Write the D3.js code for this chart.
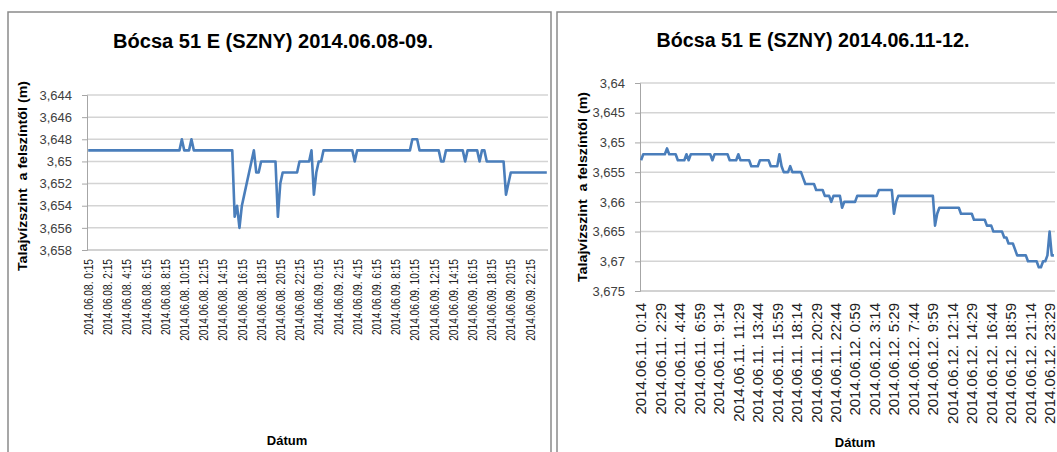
<!DOCTYPE html>
<html>
<head>
<meta charset="utf-8">
<script src="https://cdn.jsdelivr.net/npm/d3@7"></script>
<style>
  body { margin: 0; background: #fff; }
  text { font-family: "Liberation Sans", Arial, sans-serif; }
</style>
</head>
<body>
<svg id="chart" width="1057" height="452"></svg>
<script>
// ---- data ----
const leftTitle = 'Bócsa 51 E (SZNY) 2014.06.08-09.';
const rightTitle = 'Bócsa 51 E (SZNY) 2014.06.11-12.';
const yAxisTitle = 'Talajvízszint  a felszíntől (m)';
const xAxisTitle = 'Dátum';

const leftYTicks = [3.644, 3.646, 3.648, 3.650, 3.652, 3.654, 3.656, 3.658];
const rightYTicks = [3.640, 3.645, 3.650, 3.655, 3.660, 3.665, 3.670, 3.675];

const leftDates = [
  '2014.06.08. 0:15', '2014.06.08. 2:15', '2014.06.08. 4:15', '2014.06.08. 6:15',
  '2014.06.08. 8:15', '2014.06.08. 10:15', '2014.06.08. 12:15', '2014.06.08. 14:15',
  '2014.06.08. 16:15', '2014.06.08. 18:15', '2014.06.08. 20:15', '2014.06.08. 22:15',
  '2014.06.09. 0:15', '2014.06.09. 2:15', '2014.06.09. 4:15', '2014.06.09. 6:15',
  '2014.06.09. 8:15', '2014.06.09. 10:15', '2014.06.09. 12:15', '2014.06.09. 14:15',
  '2014.06.09. 16:15', '2014.06.09. 18:15', '2014.06.09. 20:15', '2014.06.09. 22:15'
];
const rightDates = [
  '2014.06.11. 0:14', '2014.06.11. 2:29', '2014.06.11. 4:44', '2014.06.11. 6:59',
  '2014.06.11. 9:14', '2014.06.11. 11:29', '2014.06.11. 13:44', '2014.06.11. 15:59',
  '2014.06.11. 18:14', '2014.06.11. 20:29', '2014.06.11. 22:44', '2014.06.12. 0:59',
  '2014.06.12. 3:14', '2014.06.12. 5:29', '2014.06.12. 7:44', '2014.06.12. 9:59',
  '2014.06.12. 12:14', '2014.06.12. 14:29', '2014.06.12. 16:44', '2014.06.12. 18:59',
  '2014.06.12. 21:14', '2014.06.12. 23:29'
];

// 15 minute readings, 192 per chart
const leftLevels = [
  3.649, 3.649, 3.649, 3.649, 3.649, 3.649, 3.649, 3.649, 3.649, 3.649, 3.649, 3.649, 3.649, 3.649, 3.649, 3.649,
  3.649, 3.649, 3.649, 3.649, 3.649, 3.649, 3.649, 3.649, 3.649, 3.649, 3.649, 3.649, 3.649, 3.649, 3.649, 3.649,
  3.649, 3.649, 3.649, 3.649, 3.649, 3.649, 3.649, 3.648, 3.649, 3.649, 3.649, 3.648, 3.649, 3.649, 3.649, 3.649,
  3.649, 3.649, 3.649, 3.649, 3.649, 3.649, 3.649, 3.649, 3.649, 3.649, 3.649, 3.649, 3.649, 3.655, 3.654, 3.656,
  3.654, 3.653, 3.652, 3.651, 3.650, 3.649, 3.651, 3.651, 3.650, 3.650, 3.650, 3.650, 3.650, 3.650, 3.650, 3.655,
  3.652, 3.651, 3.651, 3.651, 3.651, 3.651, 3.651, 3.651, 3.650, 3.650, 3.650, 3.650, 3.650, 3.649, 3.653, 3.651,
  3.650, 3.650, 3.649, 3.649, 3.649, 3.649, 3.649, 3.649, 3.649, 3.649, 3.649, 3.649, 3.649, 3.649, 3.649, 3.650,
  3.649, 3.649, 3.649, 3.649, 3.649, 3.649, 3.649, 3.649, 3.649, 3.649, 3.649, 3.649, 3.649, 3.649, 3.649, 3.649,
  3.649, 3.649, 3.649, 3.649, 3.649, 3.649, 3.649, 3.648, 3.648, 3.648, 3.649, 3.649, 3.649, 3.649, 3.649, 3.649,
  3.649, 3.649, 3.649, 3.650, 3.650, 3.649, 3.649, 3.649, 3.649, 3.649, 3.649, 3.649, 3.649, 3.650, 3.649, 3.649,
  3.649, 3.649, 3.649, 3.650, 3.649, 3.649, 3.650, 3.650, 3.650, 3.650, 3.650, 3.650, 3.650, 3.650, 3.653, 3.652,
  3.651, 3.651, 3.651, 3.651, 3.651, 3.651, 3.651, 3.651, 3.651, 3.651, 3.651, 3.651, 3.651, 3.651, 3.651, 3.651
];
const rightLevels = [
  3.653, 3.652, 3.652, 3.652, 3.652, 3.652, 3.652, 3.652, 3.652, 3.652, 3.652, 3.652, 3.651, 3.652, 3.652, 3.652,
  3.652, 3.653, 3.653, 3.653, 3.653, 3.652, 3.653, 3.652, 3.652, 3.652, 3.652, 3.652, 3.652, 3.652, 3.652, 3.652,
  3.652, 3.653, 3.652, 3.652, 3.652, 3.652, 3.652, 3.652, 3.652, 3.653, 3.653, 3.653, 3.653, 3.652, 3.653, 3.653,
  3.653, 3.653, 3.653, 3.654, 3.654, 3.654, 3.654, 3.653, 3.653, 3.653, 3.653, 3.653, 3.654, 3.654, 3.654, 3.654,
  3.652, 3.654, 3.655, 3.655, 3.655, 3.654, 3.655, 3.655, 3.655, 3.655, 3.655, 3.656, 3.657, 3.657, 3.657, 3.657,
  3.657, 3.658, 3.658, 3.658, 3.658, 3.659, 3.659, 3.659, 3.660, 3.659, 3.659, 3.659, 3.659, 3.661, 3.660, 3.660,
  3.660, 3.660, 3.660, 3.660, 3.659, 3.659, 3.659, 3.659, 3.659, 3.659, 3.659, 3.659, 3.659, 3.659, 3.658, 3.658,
  3.658, 3.658, 3.658, 3.658, 3.658, 3.662, 3.660, 3.659, 3.659, 3.659, 3.659, 3.659, 3.659, 3.659, 3.659, 3.659,
  3.659, 3.659, 3.659, 3.659, 3.659, 3.659, 3.659, 3.659, 3.664, 3.662, 3.661, 3.661, 3.661, 3.661, 3.661, 3.661,
  3.661, 3.661, 3.661, 3.661, 3.662, 3.662, 3.662, 3.662, 3.662, 3.662, 3.663, 3.663, 3.663, 3.663, 3.663, 3.663,
  3.664, 3.664, 3.664, 3.665, 3.665, 3.665, 3.665, 3.665, 3.666, 3.666, 3.667, 3.667, 3.667, 3.668, 3.669, 3.669,
  3.669, 3.669, 3.669, 3.670, 3.670, 3.670, 3.670, 3.670, 3.671, 3.671, 3.670, 3.670, 3.669, 3.665, 3.669, 3.669
];

class LevelChart {

  constructor(_config) {
    this.config = _config;
    this.initVis();
  }

  initVis() {
    let vis = this;
    const c = vis.config;

    vis.svg = d3.select('#chart');
    vis.g = vis.svg.append('g');

    // chart frame (cut off by the screenshot at the bottom)
    vis.g.append('rect')
      .attr('x', c.frame[0]).attr('y', c.frame[1])
      .attr('width', c.frame[2]).attr('height', c.frame[3])
      .attr('fill', 'none')
      .attr('stroke', '#8a8a8a')
      .attr('stroke-width', 1.5);

    vis.x = d3.scaleBand()
      .domain(d3.range(c.levels.length))
      .range([c.left, c.right]);

    vis.y = d3.scaleLinear()
      .domain([c.yTicks[0], c.yTicks[c.yTicks.length - 1]])
      .range([c.top, c.bottom]);

    vis.renderVis();
  }

  renderVis() {
    let vis = this;
    const c = vis.config;
    const fmt = v => String(+v.toFixed(3)).replace('.', ',');

    // horizontal gridlines
    vis.g.selectAll('.grid')
      .data(c.yTicks.slice(0, -1))
      .join('line')
        .attr('class', 'grid')
        .attr('x1', c.left).attr('x2', c.right)
        .attr('y1', d => vis.y(d)).attr('y2', d => vis.y(d))
        .attr('stroke', '#d4d4d4')
        .attr('stroke-width', 1.5);

    // y axis
    const yAxis = vis.g.append('g')
      .attr('transform', `translate(${c.left},0)`)
      .call(d3.axisLeft(vis.y).tickValues(c.yTicks).tickFormat(fmt).tickSize(5).tickPadding(10));
    yAxis.select('.domain').attr('stroke', '#a6a6a6');
    yAxis.selectAll('.tick line').attr('stroke', '#a6a6a6');
    yAxis.selectAll('.tick text')
      .attr('font-family', '"Liberation Sans", Arial, sans-serif')
      .attr('font-size', 13)
      .attr('fill', '#404040');

    // x axis line
    vis.g.append('line')
      .attr('x1', c.left).attr('x2', c.right)
      .attr('y1', c.bottom).attr('y2', c.bottom)
      .attr('stroke', '#a6a6a6')
      .attr('stroke-width', 1.2);

    // category labels, one every c.labelEvery readings
    const half = vis.x.bandwidth() / 2;
    vis.g.selectAll('.xlabel')
      .data(c.dates)
      .join('text')
        .attr('class', 'xlabel')
        .attr('transform', (d, i) => `translate(${vis.x(i * c.labelEvery) + half},${c.bottom + c.labelGap}) rotate(-90)`)
        .attr('text-anchor', 'end')
        .attr('dy', '0.36em')
        .attr('font-size', c.labelSize)
        .attr('fill', '#202020')
        .text(d => d)
        .each(function() {
          const len = this.getComputedTextLength();
          d3.select(this).attr('textLength', len * c.labelSquash).attr('lengthAdjust', 'spacingAndGlyphs');
        });

    // series
    const line = d3.line()
      .x((d, i) => vis.x(i) + half)
      .y(d => vis.y(d));

    vis.g.append('path')
      .datum(c.levels)
      .attr('d', line)
      .attr('fill', 'none')
      .attr('stroke', '#4a7ebb')
      .attr('stroke-width', 2.6)
      .attr('stroke-linejoin', 'round');

    // titles
    vis.g.append('text')
      .attr('x', c.titleX).attr('y', c.titleY)
      .attr('text-anchor', 'middle')
      .attr('font-size', 20)
      .attr('font-weight', 'bold')
      .attr('textLength', c.titleLength)
      .attr('lengthAdjust', 'spacingAndGlyphs')
      .text(c.title);

    vis.g.append('text')
      .attr('transform', `translate(${c.yTitleX},${c.yTitleY}) rotate(-90)`)
      .attr('text-anchor', 'middle')
      .attr('font-size', 13)
      .attr('font-weight', 'bold')
      .attr('textLength', 190)
      .attr('lengthAdjust', 'spacingAndGlyphs')
      .style('white-space', 'pre')
      .text(yAxisTitle);

    vis.g.append('text')
      .attr('x', c.xTitleX).attr('y', c.xTitleY)
      .attr('text-anchor', 'middle')
      .attr('font-size', 13)
      .attr('font-weight', 'bold')
      .text(xAxisTitle);
  }
}

new LevelChart({
  frame: [8, 12, 543, 460],
  left: 87, right: 548, top: 95, bottom: 250,
  levels: leftLevels, dates: leftDates, yTicks: leftYTicks,
  labelEvery: 8, labelGap: 9, labelSize: 13, labelSquash: 0.78,
  title: leftTitle, titleX: 273, titleY: 48, titleLength: 320,
  yTitleX: 27, yTitleY: 176,
  xTitleX: 287, xTitleY: 445
});

new LevelChart({
  frame: [557, 12, 520, 460],
  left: 640, right: 1055, top: 83, bottom: 291,
  levels: rightLevels, dates: rightDates, yTicks: rightYTicks,
  labelEvery: 9, labelGap: 12, labelSize: 15, labelSquash: 1.0,
  title: rightTitle, titleX: 813, titleY: 47, titleLength: 313,
  yTitleX: 587, yTitleY: 187,
  xTitleX: 855, xTitleY: 447
});
</script>
</body>
</html>
